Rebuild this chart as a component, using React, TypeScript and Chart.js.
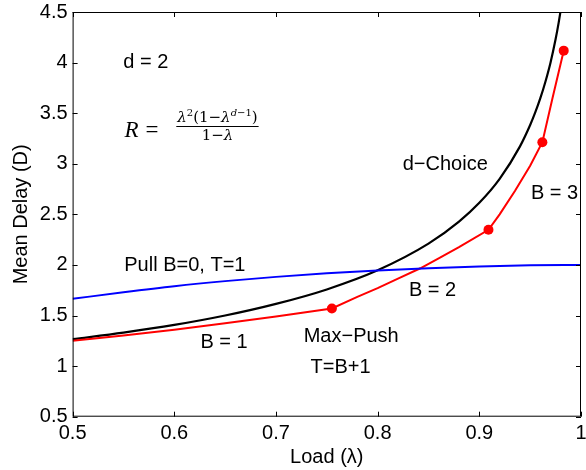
import React, { useEffect, useRef } from "react";
import { Chart, registerables } from "chart.js";

Chart.register(...registerables);

// ---- data ----
const loadTicks = [0.5, 0.6, 0.7, 0.8, 0.9, 1];
const delayTicks = [0.5, 1, 1.5, 2, 2.5, 3, 3.5, 4, 4.5];

const dChoiceLoad = [0.5, 0.55, 0.6, 0.65, 0.7, 0.75, 0.8, 0.85, 0.88, 0.9, 0.92, 0.94, 0.95, 0.955, 0.96, 0.965, 0.97, 0.975, 0.978, 0.98];
const dChoiceDelay = [1.266, 1.331, 1.407, 1.5, 1.615, 1.758, 1.947, 2.21, 2.428, 2.614, 2.851, 3.172, 3.383, 3.507, 3.648, 3.811, 3.999, 4.23, 4.393, 4.516];

const pullLoad = [0.5, 0.55, 0.6, 0.65, 0.7, 0.75, 0.8, 0.85, 0.9, 0.95, 1.0];
const pullDelay = [1.665, 1.73, 1.79, 1.84, 1.882, 1.917, 1.946, 1.968, 1.985, 1.996, 2.0];

const pushLoad = [0.5, 0.55, 0.6, 0.65, 0.7, 0.755, 0.78, 0.8, 0.82, 0.842, 0.86, 0.88, 0.909, 0.92, 0.935, 0.95, 0.962, 0.972, 0.983];
const pushDelay = [1.25, 1.3025, 1.36, 1.4225, 1.49, 1.57, 1.685, 1.77, 1.865, 1.967, 2.065, 2.175, 2.347, 2.5, 2.73, 2.98, 3.213, 3.65, 4.118];

const switchLoad = [0.755, 0.909, 0.962, 0.983];
const switchDelay = [1.57, 2.347, 3.213, 4.118];

const labelTexts = ["d = 2", "d\u2212Choice", "B = 3", "Pull B=0, T=1", "B = 2", "B = 1", "Max\u2212Push", "T=B+1"];
const labelLoads = [0.572, 0.8665, 0.974, 0.6104, 0.854, 0.649, 0.774, 0.7636];
const labelDelays = [4.0, 2.99, 2.708, 1.99, 1.746, 1.236, 1.292, 0.989];

const SANS = "'Liberation Sans', Arial, Helvetica, sans-serif";
const SERIF = "'Liberation Serif', 'Times New Roman', serif";
const MATH = "'DejaVu Serif', 'Liberation Serif', serif";

const toXY = (xs: number[], ys: number[]) => xs.map((x, i) => ({ x, y: ys[i] }));

const overlayPlugin = {
  id: "overlay",
  afterDatasetsDraw(chart: any) {
    const { ctx, chartArea: a, scales } = chart;
    const xs = scales.x;
    const ys = scales.y;
    ctx.save();
    ctx.strokeStyle = "#000";
    ctx.lineWidth = 1;
    ctx.strokeRect(a.left + 0.5, a.top + 0.5, a.right - a.left - 1, a.bottom - a.top - 1);
    const tl = 5;
    ctx.beginPath();
    loadTicks.forEach((v) => {
      const p = Math.round(xs.getPixelForValue(v)) + 0.5;
      ctx.moveTo(p, a.bottom);
      ctx.lineTo(p, a.bottom - tl);
      ctx.moveTo(p, a.top);
      ctx.lineTo(p, a.top + tl);
    });
    delayTicks.forEach((v) => {
      const p = Math.round(ys.getPixelForValue(v)) + 0.5;
      ctx.moveTo(a.left, p);
      ctx.lineTo(a.left + tl, p);
      ctx.moveTo(a.right, p);
      ctx.lineTo(a.right - tl, p);
    });
    ctx.stroke();

    // text annotations
    ctx.fillStyle = "#000";
    ctx.font = `20px ${SANS}`;
    ctx.textAlign = "center";
    ctx.textBaseline = "middle";
    labelTexts.forEach((t, i) => {
      ctx.fillText(t, xs.getPixelForValue(labelLoads[i]), ys.getPixelForValue(labelDelays[i]));
    });

    // formula R = λ²(1−λ^{d−1}) / (1−λ)
    const px = xs.getPixelForValue(0.551);
    const py = ys.getPixelForValue(3.265);
    ctx.textAlign = "left";
    ctx.textBaseline = "alphabetic";
    ctx.font = `italic 23px ${SERIF}`;
    ctx.fillText("R", px, py);
    ctx.font = `23px ${SERIF}`;
    ctx.fillText("=", px + 21, py);

    const cx = px + 93;
    const pieces = [
      { t: "\u03bb", f: `italic 15px ${MATH}`, dy: 0 },
      { t: "2", f: `10px ${MATH}`, dy: -6 },
      { t: "(1\u2212", f: `15px ${MATH}`, dy: 0 },
      { t: "\u03bb", f: `italic 15px ${MATH}`, dy: 0 },
      { t: "d", f: `italic 10px ${MATH}`, dy: -6 },
      { t: "\u22121", f: `10px ${MATH}`, dy: -6 },
      { t: ")", f: `15px ${MATH}`, dy: 0 },
    ];
    let w = 0;
    const widths = pieces.map((p) => {
      ctx.font = p.f;
      const mw = ctx.measureText(p.t).width;
      w += mw;
      return mw;
    });
    let sx = cx - w / 2;
    const numBase = py - 15;
    pieces.forEach((p, i) => {
      ctx.font = p.f;
      ctx.fillText(p.t, sx, numBase + p.dy);
      sx += widths[i];
    });
    const barY = Math.round(py - 11) + 0.5;
    ctx.lineWidth = 1;
    ctx.beginPath();
    ctx.moveTo(cx - w / 2 - 1, barY);
    ctx.lineTo(cx + w / 2 + 1, barY);
    ctx.stroke();
    const den = [
      { t: "1\u2212", f: `15px ${MATH}` },
      { t: "\u03bb", f: `italic 15px ${MATH}` },
    ];
    let dw = 0;
    const dws = den.map((p) => {
      ctx.font = p.f;
      const mw = ctx.measureText(p.t).width;
      dw += mw;
      return mw;
    });
    let dx = cx - dw / 2;
    den.forEach((p, i) => {
      ctx.font = p.f;
      ctx.fillText(p.t, dx, py + 3);
      dx += dws[i];
    });
    ctx.restore();
  },
};

export default function App() {
  const ref = useRef<HTMLCanvasElement | null>(null);

  useEffect(() => {
    document.body.style.margin = "0";
    const canvas = ref.current;
    if (!canvas) return;
    const chart = new Chart(canvas, {
      type: "scatter",
      data: {
        datasets: [
          {
            label: "Pull",
            data: toXY(pullLoad, pullDelay),
            showLine: true,
            borderColor: "#0000ff",
            borderWidth: 2,
            pointRadius: 0,
            cubicInterpolationMode: "monotone",
          },
          {
            label: "Switch points",
            data: toXY(switchLoad, switchDelay),
            showLine: false,
            backgroundColor: "#ff0000",
            borderColor: "#ff0000",
            pointRadius: 5,
            pointBorderWidth: 0,
          },
          {
            label: "Max-Push",
            data: toXY(pushLoad, pushDelay),
            showLine: true,
            borderColor: "#ff0000",
            borderWidth: 2,
            pointRadius: 0,
            tension: 0,
          },
          {
            label: "d-Choice",
            data: toXY(dChoiceLoad, dChoiceDelay),
            showLine: true,
            borderColor: "#000000",
            borderWidth: 2.2,
            pointRadius: 0,
            cubicInterpolationMode: "monotone",
          },
        ],
      },
      options: {
        responsive: false,
        animation: false,
        devicePixelRatio: 1,
        layout: { padding: { top: 12, right: 0, left: 0, bottom: 0 } },
        plugins: {
          legend: { display: false },
          tooltip: { enabled: false },
        },
        scales: {
          x: {
            type: "linear",
            min: 0.5,
            max: 1,
            afterBuildTicks: (s: any) => {
              s.ticks = loadTicks.map((v) => ({ value: v }));
            },
            afterFit: (s: any) => {
              s.height = 53.3;
              s.paddingLeft = 0;
              s.paddingRight = 0;
            },
            grid: { display: false, drawTicks: false },
            border: { display: false },
            ticks: {
              color: "#000",
              font: { family: SANS, size: 20 },
              padding: 5,
              maxRotation: 0,
              autoSkip: false,
              callback: (v: any) => String(v),
            },
            title: {
              display: true,
              text: "Load (\u03bb)",
              color: "#000",
              font: { family: SANS, size: 20 },
              padding: { top: 0, bottom: 1 },
            },
          },
          y: {
            type: "linear",
            min: 0.5,
            max: 4.5,
            afterBuildTicks: (s: any) => {
              s.ticks = delayTicks.map((v) => ({ value: v }));
            },
            afterFit: (s: any) => {
              s.width = 72.6;
              s.paddingTop = 0;
              s.paddingBottom = 0;
            },
            grid: { display: false, drawTicks: false },
            border: { display: false },
            ticks: {
              color: "#000",
              font: { family: SANS, size: 20 },
              padding: 5,
              autoSkip: false,
              callback: (v: any) => String(v),
            },
            title: {
              display: true,
              text: "Mean Delay (D)",
              color: "#000",
              font: { family: SANS, size: 20 },
              padding: { top: 9, bottom: 0 },
            },
          },
        },
      },
      plugins: [overlayPlugin],
    } as any);
    return () => chart.destroy();
  }, []);

  return (
    <div style={{ width: 586, height: 470 }}>
      <canvas ref={ref} width={586} height={470} style={{ display: "block" }} />
    </div>
  );
}
